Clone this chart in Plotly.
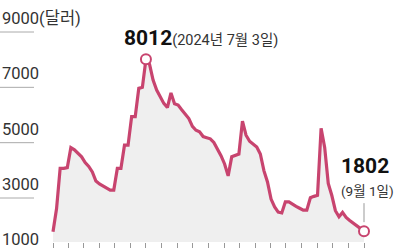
import pandas as pd
import plotly.graph_objects as go

# weekly dates from 2024-01-01 to 2025-09-01
dates = pd.date_range("2024-01-01", "2025-09-01", freq="7D")
values = [
    1780, 2620, 4070, 4070, 4100, 4820, 4740, 4620, 4490, 4280,
    4140, 3940, 3614, 3506, 3441, 3365, 3285, 3285, 4070, 4070,
    4910, 4910, 5940, 5940, 6964, 7000, 8012, 7840, 7260, 6900,
    6630, 6420, 6270, 6800, 6410, 6360, 6190, 6030, 5870, 5590,
    5450, 5390, 5220, 5180, 5140, 5010, 4790, 4530, 4230, 3800,
    4490, 4540, 4590, 5780, 5270, 5050, 4940, 4840, 4590, 3990,
    3580, 2960, 2680, 2490, 2460, 2860, 2860, 2770, 2700, 2630,
    2560, 2560, 3010, 3060, 3100, 5520, 4830, 3530, 3090, 2540,
    2320, 2480, 2300, 2190, 2100, 2010, 1910, 1802,
]
y_ticks = [9000, 7000, 5000, 3000, 1000]
y_tick_text = ["9000(달러)", "7000", "5000", "3000", "1000"]
month_ticks = pd.date_range("2024-01-01", "2025-09-01", freq="MS")
peak_label = "8012"
peak_date_label = "(2024년 7월 3일)"
end_label = "1802"
end_date_label = "(9월 1일)"

LINE = "#c8446f"
FONT = "Roboto, Noto Sans CJK KR, sans-serif"
Y_MIN, Y_MAX = 1410, 10157

peak_i = values.index(max(values))
end_i = len(values) - 1

# x range so that first date sits at px 53 and last at px 364 in a 400px plot
start, end = dates[0], dates[-1]
dpp = (end - start) / (364 - 53)
x0 = start - dpp * 53
x1 = end + dpp * (400 - 364)

fig = go.Figure()
fig.add_trace(go.Scatter(
    x=dates, y=values, mode="lines",
    line=dict(color=LINE, width=3.2),
    fill="tozeroy", fillcolor="#efefef",
    hoverinfo="skip",
))
fig.add_trace(go.Scatter(
    x=[dates[peak_i], dates[end_i]], y=[values[peak_i], values[end_i]],
    mode="markers",
    marker=dict(size=10, color="white", line=dict(color=LINE, width=2)),
    cliponaxis=False, hoverinfo="skip",
))

shapes = []
annotations = []
for v, t in zip(y_ticks, y_tick_text):
    py = (v - Y_MIN) / (Y_MAX - Y_MIN)
    if v != 1000:
        shapes.append(dict(type="line", xref="paper", yref="paper",
                           x0=0, x1=34 / 400, y0=py, y1=py,
                           line=dict(color="#aaaaaa", width=1)))
    annotations.append(dict(xref="paper", yref="paper", x=0, y=py,
                            xanchor="left", yanchor="bottom", yshift=2,
                            text=t, showarrow=False,
                            font=dict(family=FONT, size=16.5, color="#333333")))

annotations.append(dict(
    x=dates[peak_i], y=values[peak_i], xref="x", yref="y",
    xanchor="left", yanchor="middle", xshift=-24, yshift=21,
    text="<b>" + peak_label + "</b><span style='font-size:14.5px;color:#333333'>" + peak_date_label + "</span>",
    showarrow=False, font=dict(family=FONT, size=21, color="#111111")))
annotations.append(dict(
    x=dates[end_i], y=values[end_i], xref="x", yref="y",
    xanchor="left", yanchor="middle", xshift=-25, yshift=65,
    text="<b>" + end_label + "</b>", showarrow=False,
    font=dict(family=FONT, size=21, color="#111111")))
annotations.append(dict(
    x=dates[end_i], y=values[end_i], xref="x", yref="y",
    xanchor="left", yanchor="middle", xshift=-25, yshift=40,
    text=end_date_label, showarrow=False,
    font=dict(family=FONT, size=13.5, color="#333333")))

shapes.append(dict(type="line", xref="x", yref="y", ysizemode="pixel",
                   x0=dates[end_i], x1=dates[end_i], yanchor=values[end_i],
                   y0=9, y1=28, line=dict(color="#999999", width=1)))

fig.update_layout(
    width=400, height=250,
    margin=dict(l=0, r=0, t=0, b=8, pad=0),
    paper_bgcolor="white", plot_bgcolor="white",
    showlegend=False,
    shapes=shapes, annotations=annotations,
    xaxis=dict(range=[x0, x1], tickvals=list(month_ticks), showticklabels=False,
               ticks="outside", ticklen=5, tickwidth=1, tickcolor="#999999",
               showgrid=False, zeroline=False, showline=False),
    yaxis=dict(range=[Y_MIN, Y_MAX], showticklabels=False, showgrid=False,
               zeroline=False, showline=False),
)
fig.write_html("out.html")
